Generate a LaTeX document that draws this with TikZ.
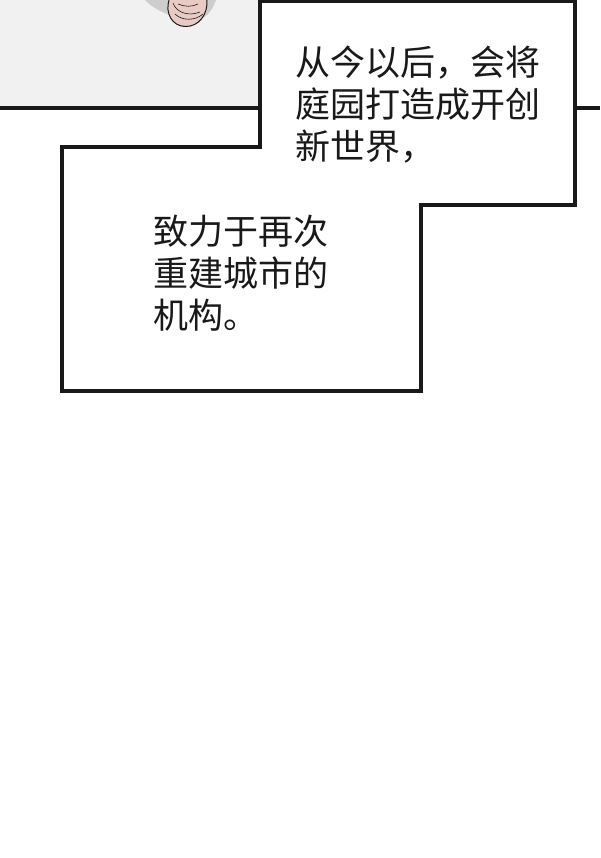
\documentclass[tikz,border=0pt]{standalone}
\usepackage{fontspec}
\newfontfamily\cjk{Noto Sans CJK SC}
\definecolor{panelgray}{RGB}{241,241,241}
\definecolor{shadowgray}{RGB}{205,205,205}
\definecolor{skin}{RGB}{232,204,196}
\definecolor{inkline}{RGB}{25,25,25}
\tikzset{
  border/.style={draw=inkline,line width=3.2pt,line join=miter},
  speech/.style={anchor=north west,inner sep=0pt,align=left,
    font=\cjk\fontsize{35pt}{42pt}\selectfont,text=inkline},
}
\begin{document}
\begin{tikzpicture}[x=1pt,y=-1pt]
\useasboundingbox (0,0) rectangle (600,858);
\fill[white] (0,0) rectangle (600,858);
% upper panel
\fill[panelgray] (0,0) rectangle (262,108);
\fill[shadowgray] (145,0) .. controls (158,14) and (185,22) .. (203,18) .. controls (210,14) and (214,6) .. (216,0) -- cycle;
\filldraw[fill=skin,draw=inkline,line width=1pt] (169,0) .. controls (165,13) and (172,26) .. (185,26.5) .. controls (199,27) and (208,14) .. (207,0);
\draw[inkline,line width=0.6pt] (173,3) .. controls (176,12) and (188,17) .. (200,12);
\draw[inkline,line width=0.6pt] (175,14) .. controls (182,21) and (195,21) .. (203,14);
\draw[inkline,line width=0.6pt] (178,4) .. controls (185,7) and (192,7) .. (198,4);
\draw[border] (0,108) -- (600,108);
% merged speech boxes
\filldraw[border,fill=white] (260,1.6) -- (575,1.6) -- (575,205) -- (421,205) -- (421,391) -- (62,391) -- (62,147) -- (260,147) -- cycle;
\node[speech] (t1) at (295,46) {从今以后，会将\\庭园打造成开创\\新世界，};
\node[speech] (t2) at (153,215) {致力于再次\\重建城市的\\机构。};
\end{tikzpicture}
\end{document}
